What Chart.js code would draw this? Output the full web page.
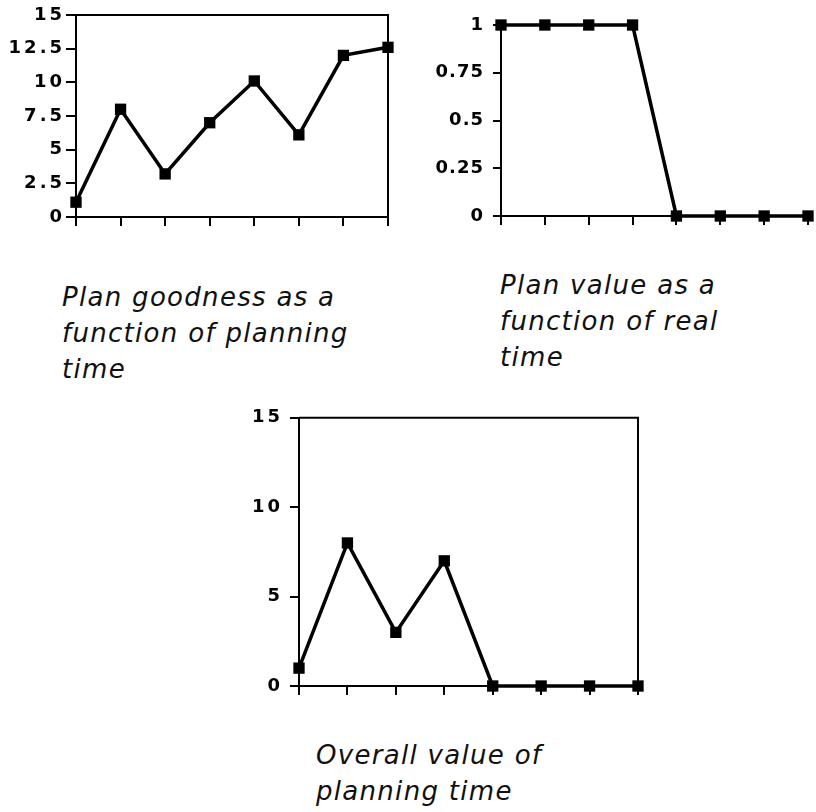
<!DOCTYPE html>
<html>
<head>
<meta charset="utf-8">
<script src="https://cdn.jsdelivr.net/npm/chart.js@4"></script>
<style>
    body { margin: 0; background: #fff; }
    #page { position: relative; width: 816px; height: 812px; overflow: hidden; }
    .box { position: absolute; }
    .caption {
        position: absolute;
        font: italic 26px 'DejaVu Sans', sans-serif;
        letter-spacing: 1.3px;
        line-height: 36px;
        color: #111;
        white-space: nowrap;
    }
</style>
</head>
<body>
<div id="page">
    <div class="box" style="left:0;top:0;width:400px;height:240px"><canvas id="goodness-chart"></canvas></div>
    <div class="box" style="left:420px;top:0;width:396px;height:240px"><canvas id="value-chart"></canvas></div>
    <div class="box" style="left:220px;top:400px;width:430px;height:310px"><canvas id="overall-chart"></canvas></div>

    <div class="caption" style="left:62px;top:279px">Plan goodness as a<br>function of planning<br>time</div>
    <div class="caption" style="left:500px;top:267px">Plan value as a<br>function of real<br>time</div>
    <div class="caption" style="left:316px;top:737px">Overall value of<br>planning time</div>
</div>

<script>
    // planning / real time steps (no labels on the x axis)
    var timeSteps = ['1', '2', '3', '4', '5', '6', '7', '8'];

    var planGoodness = [1.1, 8, 3.2, 7, 10.1, 6.1, 12, 12.6];
    var planValue = [1, 1, 1, 1, 0, 0, 0, 0];
    var overallValue = [1, 8, 3, 7, 0, 0, 0, 0];

    var goodnessTicks = { min: 0, max: 15, step: 2.5 };
    var valueTicks = { min: 0, max: 1, step: 0.25 };
    var overallTicks = { min: 0, max: 15, step: 5 };

    // letter spacing on tick labels, canvas state is reset on resize so set it each time
    var spacingPlugin = {
        id: 'spacing',
        beforeUpdate: function (chart, args, opts) { chart.ctx.letterSpacing = opts.px + 'px'; },
        beforeDraw: function (chart, args, opts) { chart.ctx.letterSpacing = opts.px + 'px'; }
    };

    // top and right edges of the plot frame
    var framePlugin = {
        id: 'frame',
        afterDraw: function (chart, args, opts) {
            if (!opts.show) return;
            var a = chart.chartArea;
            var ctx = chart.ctx;
            ctx.save();
            ctx.strokeStyle = '#000';
            ctx.lineWidth = 2;
            ctx.beginPath();
            ctx.moveTo(a.left, a.top);
            ctx.lineTo(a.right, a.top);
            ctx.lineTo(a.right, a.bottom);
            ctx.stroke();
            ctx.restore();
        }
    };

    function makeChart(id, values, range, cfg) {
        return new Chart(document.getElementById(id), {
            type: 'line',
            data: {
                labels: timeSteps,
                datasets: [{
                    data: values,
                    clip: false,
                    borderColor: '#000',
                    borderWidth: 3.5,
                    tension: 0,
                    pointStyle: 'rect',
                    pointRadius: 8,
                    pointBackgroundColor: '#000',
                    pointBorderWidth: 0
                }]
            },
            options: {
                maintainAspectRatio: false,
                animation: false,
                events: [],
                layout: { padding: cfg.padding },
                plugins: {
                    legend: { display: false },
                    tooltip: { enabled: false },
                    frame: { show: cfg.frame },
                    spacing: { px: cfg.spacing }
                },
                scales: {
                    x: {
                        offset: false,
                        border: { display: true, color: '#000', width: 2 },
                        grid: { drawOnChartArea: false, color: '#000', lineWidth: 2, tickLength: 9 },
                        ticks: { display: false },
                        afterFit: function (s) { s.height = cfg.xHeight; }
                    },
                    y: {
                        min: range.min,
                        max: range.max,
                        border: { display: true, color: '#000', width: 2 },
                        grid: { drawOnChartArea: false, color: '#000', lineWidth: 2, tickLength: cfg.tickLen },
                        ticks: {
                            stepSize: range.step,
                            color: '#000',
                            padding: cfg.labelPad,
                            font: { family: "'DejaVu Sans', sans-serif", size: 18, weight: 'bold' },
                            callback: function (v) { return String(v); }
                        },
                        afterFit: function (s) { s.width = cfg.yWidth; }
                    }
                }
            },
            plugins: [spacingPlugin, framePlugin]
        });
    }

    makeChart('goodness-chart', planGoodness, goodnessTicks, {
        padding: { top: 15, right: 12 }, yWidth: 76, xHeight: 23,
        tickLen: 10, labelPad: 1, spacing: 3, frame: true
    });
    makeChart('value-chart', planValue, valueTicks, {
        padding: { top: 25, right: 3 }, yWidth: 81, xHeight: 24,
        tickLen: 8, labelPad: 9, spacing: 1, frame: false
    });
    makeChart('overall-chart', overallValue, overallTicks, {
        padding: { top: 16, right: 12 }, yWidth: 79, xHeight: 24,
        tickLen: 9, labelPad: 7, spacing: 3, frame: true
    });
</script>
</body>
</html>
